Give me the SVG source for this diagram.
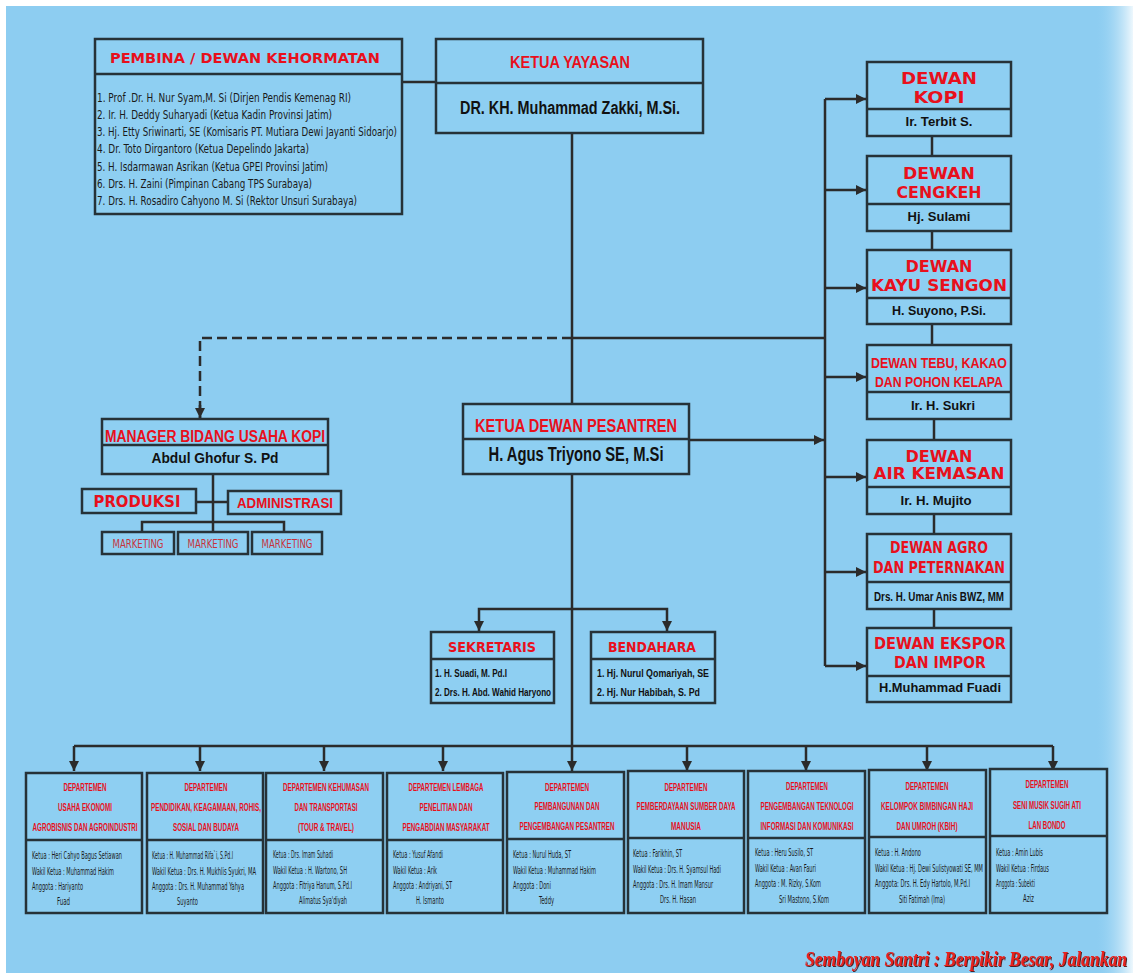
<svg xmlns="http://www.w3.org/2000/svg" width="1133" height="973" viewBox="0 0 1133 973">
<defs>
<linearGradient id="edge" x1="0" y1="0" x2="1" y2="0">
<stop offset="0" stop-color="#8DCDF1" stop-opacity="0"/>
<stop offset="1" stop-color="#ffffff" stop-opacity="0.85"/>
</linearGradient>
<filter id="shadow" x="-5%" y="-30%" width="110%" height="160%">
<feDropShadow dx="1" dy="1" stdDeviation="0.6" flood-color="#4a0a0a" flood-opacity="0.9"/>
</filter>
<marker id="ah" viewBox="0 0 10 10" refX="10" refY="5" markerWidth="11" markerHeight="10" markerUnits="userSpaceOnUse" orient="auto">
<path d="M0,0 L10,5 L0,10 z" fill="#2b2b2b"/>
</marker>
<style>
.bx{fill:#8ECFF2;stroke:#263238;stroke-width:2.5}
.dv{stroke:#263238;stroke-width:2.5}
.ln{stroke:#2b2b2b;stroke-width:2.5;fill:none}
.ar{stroke:#2b2b2b;stroke-width:2.5;fill:none;marker-end:url(#ah)}
.dash{stroke:#2b2b2b;stroke-width:2.5;fill:none;stroke-dasharray:10 5}
.rt{fill:#E8101C;font-family:"Liberation Sans",Arial,sans-serif;font-weight:bold;text-anchor:middle}
.rw{fill:#E8101C;font-family:"DejaVu Sans",sans-serif;font-weight:bold;text-anchor:middle}
.bk{fill:#111;font-family:"Liberation Sans",Arial,sans-serif;font-weight:bold;text-anchor:middle}
.bl{fill:#111;font-family:"Liberation Sans",Arial,sans-serif;font-weight:bold}
.sm{fill:#1a1a1a;font-family:"Liberation Sans Narrow","DejaVu Sans Condensed","Liberation Sans",sans-serif}
.mk{fill:#C8323C;font-family:"Liberation Sans Narrow","DejaVu Sans Condensed","Liberation Sans",sans-serif;text-anchor:middle}
.dt{fill:#E8101C;font-family:"Liberation Sans",Arial,sans-serif;font-weight:bold;text-anchor:middle;font-size:11px}
.dm{fill:#1a1a1a;font-family:"Liberation Sans Narrow","DejaVu Sans Condensed","Liberation Sans",sans-serif;font-size:10px}
</style>
</defs>
<rect x="0" y="0" width="1133" height="973" fill="#ffffff"/>
<rect x="6" y="6" width="1127" height="967" fill="#8DCDF1"/>
<rect x="1095" y="6" width="38" height="967" fill="url(#edge)"/>

<g id="connectors">
<path class="ln" d="M402,82 H436"/>
<path class="ln" d="M572,133 V404"/>
<path class="ln" d="M572,474 V746"/>
<path class="ln" d="M572,338 H825"/>
<path class="dash" d="M572,338 H200 V418"/>
<path class="ar" d="M200,405 V418"/>
<path class="ln" d="M825,99 V666"/>
<path class="ar" d="M825,99 H866"/>
<path class="ar" d="M825,190 H866"/>
<path class="ar" d="M825,288 H866"/>
<path class="ar" d="M825,377 H866"/>
<path class="ar" d="M825,477 H866"/>
<path class="ar" d="M825,572 H866"/>
<path class="ar" d="M825,666 H866"/>
<path class="ar" d="M689,440 H824"/>
<path class="ln" d="M932,136 V156"/>
<path class="ln" d="M932,231 V250"/>
<path class="ln" d="M932,324 V345"/>
<path class="ln" d="M934,419 V440"/>
<path class="ln" d="M934,514 V534"/>
<path class="ln" d="M934,609 V628"/>
<path class="ln" d="M213,474 V532"/>
<path class="ln" d="M196,502 H228"/>
<path class="ln" d="M142,532 V522 H284 V532"/>
<path class="ar" d="M572,609 H479 V631"/>
<path class="ar" d="M572,609 H667 V631"/>
<path class="ln" d="M74,746 H1053"/>
<path class="ar" d="M74,746 V771"/>
<path class="ar" d="M200,746 V771"/>
<path class="ar" d="M324,746 V771"/>
<path class="ar" d="M443,746 V771"/>
<path class="ar" d="M572,746 V771"/>
<path class="ar" d="M687,746 V771"/>
<path class="ar" d="M806,746 V771"/>
<path class="ar" d="M927,746 V771"/>
<path class="ar" d="M1053,746 V771"/>
</g>

<g id="pembina">
<rect class="bx" x="95" y="39" width="307" height="175"/>
<line class="dv" x1="95" y1="74" x2="402" y2="74"/>
<text class="rw" x="245" y="63" font-size="14" textLength="270" lengthAdjust="spacingAndGlyphs">PEMBINA / DEWAN KEHORMATAN</text>
<text class="sm" x="97" y="101.5" font-size="12.5" textLength="254" lengthAdjust="spacingAndGlyphs">1. Prof .Dr. H. Nur Syam,M. Si (Dirjen Pendis Kemenag RI)</text>
<text class="sm" x="97" y="118.5" font-size="12.5" textLength="235" lengthAdjust="spacingAndGlyphs">2. Ir. H. Deddy Suharyadi (Ketua Kadin Provinsi Jatim)</text>
<text class="sm" x="97" y="135.5" font-size="12.5" textLength="300" lengthAdjust="spacingAndGlyphs">3. Hj. Etty Sriwinarti, SE (Komisaris PT. Mutiara Dewi Jayanti Sidoarjo)</text>
<text class="sm" x="97" y="153" font-size="12.5" textLength="212" lengthAdjust="spacingAndGlyphs">4. Dr. Toto Dirgantoro (Ketua Depelindo Jakarta)</text>
<text class="sm" x="97" y="170.5" font-size="12.5" textLength="231" lengthAdjust="spacingAndGlyphs">5. H. Isdarmawan Asrikan (Ketua GPEI Provinsi Jatim)</text>
<text class="sm" x="97" y="187.5" font-size="12.5" textLength="215" lengthAdjust="spacingAndGlyphs">6. Drs. H. Zaini (Pimpinan Cabang TPS Surabaya)</text>
<text class="sm" x="97" y="205" font-size="12.5" textLength="260" lengthAdjust="spacingAndGlyphs">7. Drs. H. Rosadiro Cahyono M. Si (Rektor Unsuri Surabaya)</text>
</g>

<g id="ketua-yayasan">
<rect class="bx" x="436" y="39" width="267" height="94"/>
<line class="dv" x1="436" y1="83" x2="703" y2="83"/>
<text class="rt" x="570" y="68" font-size="17" textLength="120" lengthAdjust="spacingAndGlyphs">KETUA YAYASAN</text>
<text class="bk" x="570" y="113.5" font-size="18" textLength="220" lengthAdjust="spacingAndGlyphs">DR. KH. Muhammad Zakki, M.Si.</text>
</g>

<g id="dewan-kopi">
<rect class="bx" x="867" y="62" width="144" height="74"/>
<line class="dv" x1="867" y1="109" x2="1011" y2="109"/>
<text class="rw" x="939" y="83.5" font-size="15" textLength="76" lengthAdjust="spacingAndGlyphs">DEWAN</text>
<text class="rw" x="939" y="102.5" font-size="15" textLength="51" lengthAdjust="spacingAndGlyphs">KOPI</text>
<text class="bk" x="939" y="125.5" font-size="13" textLength="67" lengthAdjust="spacingAndGlyphs">Ir. Terbit S.</text>
</g>
<g id="dewan-cengkeh">
<rect class="bx" x="867" y="156" width="144" height="75"/>
<line class="dv" x1="867" y1="204" x2="1011" y2="204"/>
<text class="rw" x="939" y="178.5" font-size="15" textLength="72" lengthAdjust="spacingAndGlyphs">DEWAN</text>
<text class="rw" x="939" y="197.5" font-size="15" textLength="85" lengthAdjust="spacingAndGlyphs">CENGKEH</text>
<text class="bk" x="939" y="220.5" font-size="13" textLength="63" lengthAdjust="spacingAndGlyphs">Hj. Sulami</text>
</g>
<g id="dewan-kayu-sengon">
<rect class="bx" x="867" y="250" width="144" height="74"/>
<line class="dv" x1="867" y1="298" x2="1011" y2="298"/>
<text class="rw" x="939" y="271.5" font-size="15" textLength="67" lengthAdjust="spacingAndGlyphs">DEWAN</text>
<text class="rw" x="939" y="290.5" font-size="15" textLength="136" lengthAdjust="spacingAndGlyphs">KAYU SENGON</text>
<text class="bk" x="939" y="314.5" font-size="13" textLength="94" lengthAdjust="spacingAndGlyphs">H. Suyono, P.Si.</text>
</g>
<g id="dewan-tebu">
<rect class="bx" x="867" y="345" width="144" height="74"/>
<line class="dv" x1="867" y1="392" x2="1011" y2="392"/>
<text class="rt" x="939" y="367.5" font-size="15" textLength="136" lengthAdjust="spacingAndGlyphs">DEWAN TEBU, KAKAO</text>
<text class="rt" x="939" y="386.5" font-size="15" textLength="128" lengthAdjust="spacingAndGlyphs">DAN POHON KELAPA</text>
<text class="bk" x="943" y="409.5" font-size="13" textLength="64" lengthAdjust="spacingAndGlyphs">Ir. H. Sukri</text>
</g>
<g id="dewan-air-kemasan">
<rect class="bx" x="867" y="440" width="144" height="74"/>
<line class="dv" x1="867" y1="487" x2="1011" y2="487"/>
<text class="rw" x="939" y="461.5" font-size="15" textLength="67" lengthAdjust="spacingAndGlyphs">DEWAN</text>
<text class="rw" x="939" y="478.5" font-size="15" textLength="131" lengthAdjust="spacingAndGlyphs">AIR KEMASAN</text>
<text class="bk" x="936" y="504.5" font-size="13" textLength="71" lengthAdjust="spacingAndGlyphs">Ir. H. Mujito</text>
</g>
<g id="dewan-agro">
<rect class="bx" x="867" y="534" width="144" height="75"/>
<line class="dv" x1="867" y1="582" x2="1011" y2="582"/>
<text class="rw" x="939" y="552.5" font-size="15" textLength="98" lengthAdjust="spacingAndGlyphs">DEWAN AGRO</text>
<text class="rw" x="939" y="572.5" font-size="15" textLength="132" lengthAdjust="spacingAndGlyphs">DAN PETERNAKAN</text>
<text class="bk" x="939" y="600.5" font-size="12.5" textLength="130" lengthAdjust="spacingAndGlyphs">Drs. H. Umar Anis BWZ, MM</text>
</g>
<g id="dewan-ekspor">
<rect class="bx" x="867" y="628" width="144" height="74"/>
<line class="dv" x1="867" y1="676" x2="1011" y2="676"/>
<text class="rw" x="940" y="648.5" font-size="15" textLength="132" lengthAdjust="spacingAndGlyphs">DEWAN EKSPOR</text>
<text class="rw" x="940" y="667.5" font-size="15" textLength="92" lengthAdjust="spacingAndGlyphs">DAN IMPOR</text>
<text class="bk" x="940" y="691.5" font-size="13" textLength="122" lengthAdjust="spacingAndGlyphs">H.Muhammad Fuadi</text>
</g>

<g id="manager">
<rect class="bx" x="102" y="419" width="226" height="55"/>
<line class="dv" x1="102" y1="445" x2="328" y2="445"/>
<text class="rt" x="215" y="441.5" font-size="16" textLength="220" lengthAdjust="spacingAndGlyphs">MANAGER BIDANG USAHA KOPI</text>
<text class="bk" x="215" y="462.5" font-size="15" textLength="127" lengthAdjust="spacingAndGlyphs">Abdul Ghofur S. Pd</text>
</g>
<g id="produksi">
<rect class="bx" x="82" y="489" width="114" height="24"/>
<text class="rw" x="137" y="506.5" font-size="15" textLength="87" lengthAdjust="spacingAndGlyphs">PRODUKSI</text>
</g>
<g id="administrasi">
<rect class="bx" x="228" y="491" width="113" height="23"/>
<text class="rt" x="285" y="508" font-size="14" textLength="96" lengthAdjust="spacingAndGlyphs">ADMINISTRASI</text>
</g>
<g id="marketing-1">
<rect class="bx" x="102" y="532" width="72" height="22"/>
<text class="mk" x="138" y="547.5" font-size="12" textLength="51" lengthAdjust="spacingAndGlyphs">MARKETING</text>
</g>
<g id="marketing-2">
<rect class="bx" x="178" y="532" width="70" height="22"/>
<text class="mk" x="213" y="547.5" font-size="12" textLength="51" lengthAdjust="spacingAndGlyphs">MARKETING</text>
</g>
<g id="marketing-3">
<rect class="bx" x="252" y="532" width="70" height="22"/>
<text class="mk" x="287" y="547.5" font-size="12" textLength="51" lengthAdjust="spacingAndGlyphs">MARKETING</text>
</g>

<g id="ketua-dewan-pesantren">
<rect class="bx" x="463" y="404" width="226" height="70"/>
<line class="dv" x1="463" y1="439" x2="689" y2="439"/>
<text class="rt" x="576" y="431.5" font-size="19" textLength="202" lengthAdjust="spacingAndGlyphs">KETUA DEWAN PESANTREN</text>
<text class="bk" x="576" y="461" font-size="20" textLength="175" lengthAdjust="spacingAndGlyphs">H. Agus Triyono SE, M.Si</text>
</g>

<g id="sekretaris">
<rect class="bx" x="431" y="632" width="123" height="71"/>
<line class="dv" x1="431" y1="659" x2="554" y2="659"/>
<text class="rw" x="492" y="652" font-size="14" textLength="88" lengthAdjust="spacingAndGlyphs">SEKRETARIS</text>
<text class="bl" x="435" y="677" font-size="11.5" textLength="72" lengthAdjust="spacingAndGlyphs">1. H. Suadi, M. Pd.I</text>
<text class="bl" x="435" y="696" font-size="11.5" textLength="116" lengthAdjust="spacingAndGlyphs">2. Drs. H. Abd. Wahid Haryono</text>
</g>
<g id="bendahara">
<rect class="bx" x="591" y="632" width="124" height="71"/>
<line class="dv" x1="591" y1="659" x2="715" y2="659"/>
<text class="rw" x="652" y="652" font-size="14" textLength="88" lengthAdjust="spacingAndGlyphs">BENDAHARA</text>
<text class="bl" x="597" y="677" font-size="11.5" textLength="112" lengthAdjust="spacingAndGlyphs">1. Hj. Nurul Qomariyah, SE</text>
<text class="bl" x="597" y="696" font-size="11.5" textLength="103" lengthAdjust="spacingAndGlyphs">2. Hj. Nur Habibah, S. Pd</text>
</g>

<g id="dept-1">
<rect class="bx" x="26" y="773" width="116" height="140"/>
<line class="dv" x1="26" y1="840" x2="142" y2="840"/>
<text class="dt" x="85" y="791" textLength="43" lengthAdjust="spacingAndGlyphs">DEPARTEMEN</text>
<text class="dt" x="85" y="811" textLength="54" lengthAdjust="spacingAndGlyphs">USAHA EKONOMI</text>
<text class="dt" x="85" y="831" textLength="105" lengthAdjust="spacingAndGlyphs">AGROBISNIS DAN AGROINDUSTRI</text>
<text class="dm" x="32" y="859" textLength="90" lengthAdjust="spacingAndGlyphs">Ketua : Heri Cahyo Bagus Setiawan</text>
<text class="dm" x="32" y="875" textLength="82" lengthAdjust="spacingAndGlyphs">Wakil Ketua : Muhammad Hakim</text>
<text class="dm" x="32" y="890" textLength="51" lengthAdjust="spacingAndGlyphs">Anggota : Hariyanto</text>
<text class="dm" x="57" y="905" textLength="13" lengthAdjust="spacingAndGlyphs">Fuad</text>
</g>
<g id="dept-2">
<rect class="bx" x="147" y="773" width="116" height="140"/>
<line class="dv" x1="147" y1="840" x2="263" y2="840"/>
<text class="dt" x="206" y="791" textLength="43" lengthAdjust="spacingAndGlyphs">DEPARTEMEN</text>
<text class="dt" x="206" y="811" textLength="110" lengthAdjust="spacingAndGlyphs">PENDIDIKAN, KEAGAMAAN, ROHIS,</text>
<text class="dt" x="206" y="831" textLength="66" lengthAdjust="spacingAndGlyphs">SOSIAL DAN BUDAYA</text>
<text class="dm" x="152" y="859" textLength="81" lengthAdjust="spacingAndGlyphs">Ketua : H. Muhammad Rifa`i, S.Pd.I</text>
<text class="dm" x="152" y="875" textLength="104" lengthAdjust="spacingAndGlyphs">Wakil Ketua :  Drs. H. Mukhlis Syukri, MA</text>
<text class="dm" x="152" y="890" textLength="92" lengthAdjust="spacingAndGlyphs">Anggota : Drs. H. Muhammad Yahya</text>
<text class="dm" x="177" y="905" textLength="21" lengthAdjust="spacingAndGlyphs">Suyanto</text>
</g>
<g id="dept-3">
<rect class="bx" x="266" y="773" width="117" height="140"/>
<line class="dv" x1="266" y1="840" x2="383" y2="840"/>
<text class="dt" x="326" y="791" textLength="86" lengthAdjust="spacingAndGlyphs">DEPARTEMEN KEHUMASAN</text>
<text class="dt" x="326" y="811" textLength="63" lengthAdjust="spacingAndGlyphs">DAN TRANSPORTASI</text>
<text class="dt" x="326" y="831" textLength="56" lengthAdjust="spacingAndGlyphs">(TOUR &amp; TRAVEL)</text>
<text class="dm" x="273" y="858" textLength="60" lengthAdjust="spacingAndGlyphs">Ketua : Drs. Imam Suhadi</text>
<text class="dm" x="273" y="874" textLength="74" lengthAdjust="spacingAndGlyphs">Wakil Ketua : H. Wartono, SH</text>
<text class="dm" x="273" y="889" textLength="79" lengthAdjust="spacingAndGlyphs">Anggota : Fitriya Hanum, S.Pd.I</text>
<text class="dm" x="299" y="904" textLength="48" lengthAdjust="spacingAndGlyphs">Alimatus Sya'diyah</text>
</g>
<g id="dept-4">
<rect class="bx" x="387" y="773" width="116" height="140"/>
<line class="dv" x1="387" y1="840" x2="503" y2="840"/>
<text class="dt" x="446" y="791" textLength="75" lengthAdjust="spacingAndGlyphs">DEPARTEMEN LEMBAGA</text>
<text class="dt" x="446" y="811" textLength="53" lengthAdjust="spacingAndGlyphs">PENELITIAN DAN</text>
<text class="dt" x="446" y="831" textLength="87" lengthAdjust="spacingAndGlyphs">PENGABDIAN MASYARAKAT</text>
<text class="dm" x="393" y="858" textLength="50" lengthAdjust="spacingAndGlyphs">Ketua : Yusuf Afandi</text>
<text class="dm" x="393" y="874" textLength="44" lengthAdjust="spacingAndGlyphs">Wakil Ketua : Arik</text>
<text class="dm" x="393" y="889" textLength="59" lengthAdjust="spacingAndGlyphs">Anggota : Andriyani, ST</text>
<text class="dm" x="416" y="904" textLength="28" lengthAdjust="spacingAndGlyphs">H. Ismanto</text>
</g>
<g id="dept-5">
<rect class="bx" x="507" y="772" width="117" height="141"/>
<line class="dv" x1="507" y1="839" x2="624" y2="839"/>
<text class="dt" x="567" y="791" textLength="44" lengthAdjust="spacingAndGlyphs">DEPARTEMEN</text>
<text class="dt" x="567" y="810" textLength="65" lengthAdjust="spacingAndGlyphs">PEMBANGUNAN DAN</text>
<text class="dt" x="567" y="830" textLength="95" lengthAdjust="spacingAndGlyphs">PENGEMBANGAN PESANTREN</text>
<text class="dm" x="513" y="858" textLength="58" lengthAdjust="spacingAndGlyphs">Ketua : Nurul Huda, ST</text>
<text class="dm" x="513" y="874" textLength="83" lengthAdjust="spacingAndGlyphs">Wakil Ketua : Muhammad Hakim</text>
<text class="dm" x="513" y="889" textLength="38" lengthAdjust="spacingAndGlyphs">Anggota : Doni</text>
<text class="dm" x="539" y="904" textLength="15" lengthAdjust="spacingAndGlyphs">Teddy</text>
</g>
<g id="dept-6">
<rect class="bx" x="628" y="771" width="116" height="142"/>
<line class="dv" x1="628" y1="838" x2="744" y2="838"/>
<text class="dt" x="686" y="791" textLength="43" lengthAdjust="spacingAndGlyphs">DEPARTEMEN</text>
<text class="dt" x="686" y="810" textLength="99" lengthAdjust="spacingAndGlyphs">PEMBERDAYAAN SUMBER DAYA</text>
<text class="dt" x="686" y="830" textLength="30" lengthAdjust="spacingAndGlyphs">MANUSIA</text>
<text class="dm" x="633" y="857" textLength="49" lengthAdjust="spacingAndGlyphs">Ketua : Farikhin, ST</text>
<text class="dm" x="633" y="873" textLength="88" lengthAdjust="spacingAndGlyphs">Wakil Ketua : Drs. H. Syamsul Hadi</text>
<text class="dm" x="633" y="888" textLength="80" lengthAdjust="spacingAndGlyphs">Anggota : Drs. H. Imam Mansur</text>
<text class="dm" x="660" y="903" textLength="36" lengthAdjust="spacingAndGlyphs">Drs. H. Hasan</text>
</g>
<g id="dept-7">
<rect class="bx" x="748" y="771" width="117" height="142"/>
<line class="dv" x1="748" y1="838" x2="865" y2="838"/>
<text class="dt" x="807" y="790" textLength="42" lengthAdjust="spacingAndGlyphs">DEPARTEMEN</text>
<text class="dt" x="807" y="810" textLength="93" lengthAdjust="spacingAndGlyphs">PENGEMBANGAN TEKNOLOGI</text>
<text class="dt" x="807" y="830" textLength="93" lengthAdjust="spacingAndGlyphs">INFORMASI DAN KOMUNIKASI</text>
<text class="dm" x="755" y="856" textLength="58" lengthAdjust="spacingAndGlyphs">Ketua : Heru Susilo, ST</text>
<text class="dm" x="755" y="872" textLength="61" lengthAdjust="spacingAndGlyphs">Wakil Ketua : Avan Fauri</text>
<text class="dm" x="755" y="887" textLength="66" lengthAdjust="spacingAndGlyphs">Anggota : M. Rizky, S.Kom</text>
<text class="dm" x="779" y="903" textLength="50" lengthAdjust="spacingAndGlyphs">Sri Mastono, S.Kom</text>
</g>
<g id="dept-8">
<rect class="bx" x="869" y="770" width="117" height="143"/>
<line class="dv" x1="869" y1="837" x2="986" y2="837"/>
<text class="dt" x="927" y="790" textLength="43" lengthAdjust="spacingAndGlyphs">DEPARTEMEN</text>
<text class="dt" x="927" y="810" textLength="92" lengthAdjust="spacingAndGlyphs">KELOMPOK BIMBINGAN HAJI</text>
<text class="dt" x="927" y="830" textLength="61" lengthAdjust="spacingAndGlyphs">DAN UMROH (KBIH)</text>
<text class="dm" x="875" y="856" textLength="46" lengthAdjust="spacingAndGlyphs">Ketua : H. Andono</text>
<text class="dm" x="875" y="872" textLength="108" lengthAdjust="spacingAndGlyphs">Wakil Ketua : Hj. Dewi Sulistyowati SE, MM</text>
<text class="dm" x="875" y="887" textLength="95" lengthAdjust="spacingAndGlyphs">Anggota: Drs. H. Edy Hartolo, M.Pd.I</text>
<text class="dm" x="899" y="903" textLength="46" lengthAdjust="spacingAndGlyphs">Siti Fatimah (Ima)</text>
</g>
<g id="dept-9">
<rect class="bx" x="990" y="769" width="117" height="144"/>
<line class="dv" x1="990" y1="836" x2="1107" y2="836"/>
<text class="dt" x="1047" y="788" textLength="43" lengthAdjust="spacingAndGlyphs">DEPARTEMEN</text>
<text class="dt" x="1047" y="809" textLength="68" lengthAdjust="spacingAndGlyphs">SENI MUSIK SUGIH ATI</text>
<text class="dt" x="1047" y="829" textLength="37" lengthAdjust="spacingAndGlyphs">LAN BONDO</text>
<text class="dm" x="996" y="856" textLength="47" lengthAdjust="spacingAndGlyphs">Ketua : Amin Lubis</text>
<text class="dm" x="996" y="872" textLength="53" lengthAdjust="spacingAndGlyphs">Wakil Ketua : Firdaus</text>
<text class="dm" x="996" y="887" textLength="39" lengthAdjust="spacingAndGlyphs">Anggota : Subekti</text>
<text class="dm" x="1023" y="902" textLength="11" lengthAdjust="spacingAndGlyphs">Aziz</text>
</g>

<text x="805" y="966" font-family="'Liberation Serif','DejaVu Serif',serif" font-style="italic" font-weight="bold" font-size="22" fill="#E8201C" filter="url(#shadow)" textLength="322" lengthAdjust="spacingAndGlyphs">Semboyan Santri : Berpikir Besar, Jalankan</text>
</svg>
